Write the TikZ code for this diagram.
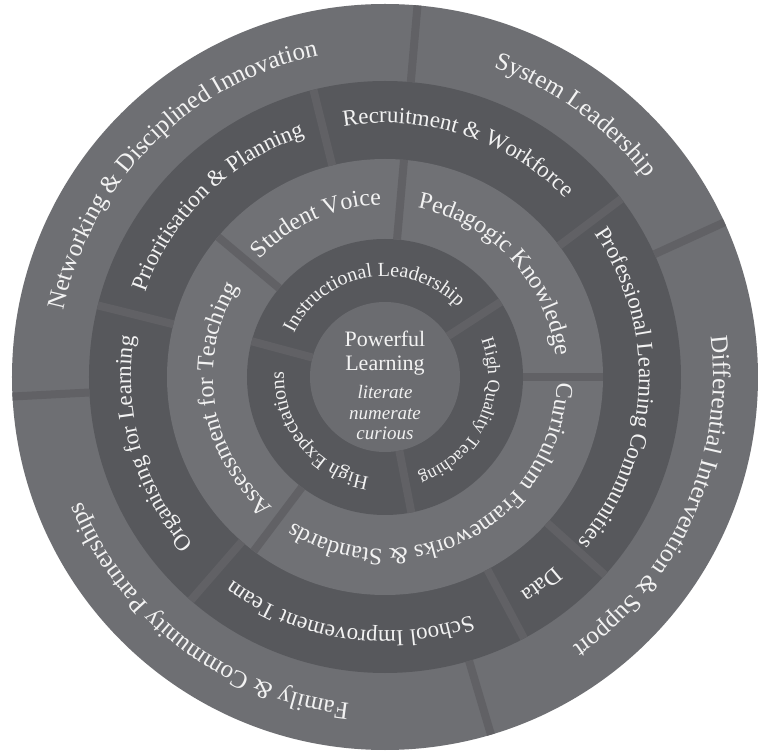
\documentclass[tikz,border=0pt]{standalone}
\usepackage{fontspec}
\setmainfont{Liberation Serif}
\usetikzlibrary{decorations.text}
\definecolor{ringlight}{HTML}{6E6F73}
\definecolor{ringmid}{HTML}{707175}
\definecolor{ringdark}{HTML}{57585C}
\definecolor{ringcore}{HTML}{6B6C70}
\definecolor{ringgap}{HTML}{616165}
\definecolor{ringtxt}{HTML}{F2F2F2}
\newcommand{\txtfive}{\fontsize{25}{25}\selectfont\color{ringtxt}}
\newcommand{\txtfour}{\fontsize{23}{23}\selectfont\color{ringtxt}}
\newcommand{\txtthree}{\fontsize{24}{24}\selectfont\color{ringtxt}}
\newcommand{\txttwo}{\fontsize{20}{20}\selectfont\color{ringtxt}}
\newcommand{\txttwos}{\fontsize{18}{18}\selectfont\color{ringtxt}}
\begin{document}
\begin{tikzpicture}[x=1pt,y=1pt,inner sep=0pt,outer sep=0pt,
divider/.style={draw=ringgap,line width=8pt},
ringtext/.style={decorate,decoration={text along path,text align=center}}]
\useasboundingbox (-385,-375) rectangle (373,377);
\fill[ringlight] (0,0) circle (373);
\fill[ringdark] (0,0) circle (296);
\fill[ringmid] (0,0) circle (218);
\fill[ringdark] (0,0) circle (138);
\fill[ringcore] (0,0) circle (75);
\foreach \a in {24.5,85,183,286.5} \draw[divider] (\a:296) -- (\a:373);
\foreach \a in {37,104,166,229,298,318} \draw[divider] (\a:218) -- (\a:296);
\foreach \a in {0,85,140,233} \draw[divider] (\a:138) -- (\a:218);
\foreach \a in {33,165,281} \draw[divider] (\a:75) -- (\a:138);
\path[ringtext,decoration={text={|\txtfive|Networking {\&} Disciplined Innovation}}] (225:328) arc[start angle=225,end angle=45,radius=328];
\path[ringtext,decoration={text={|\txtfive|System Leadership}}] (144:328) arc[start angle=144,end angle=-36,radius=328];
\path[ringtext,decoration={text={|\txtfive|Differential Intervention {\&} Support}}] (66:328) arc[start angle=66,end angle=-114,radius=328];
\path[ringtext,decoration={text={|\txtfive|Family {\&} Community Partnerships}}] (323:328) arc[start angle=323,end angle=143,radius=328];
\path[ringtext,decoration={text={|\txtfour|Prioritisation {\&} Planning}}] (224.5:254) arc[start angle=224.5,end angle=44.5,radius=254];
\path[ringtext,decoration={text={|\txtfour|Recruitment {\&} Workforce}}] (162:254) arc[start angle=162,end angle=-18,radius=254];
\path[ringtext,decoration={text={|\txtfour|Professional Learning Communities}}] (87:254) arc[start angle=87,end angle=-93,radius=254];
\path[ringtext,decoration={text={|\txtfour|Data}}] (37:254) arc[start angle=37,end angle=-143,radius=254];
\path[ringtext,decoration={text={|\txtfour|School Improvement Team}}] (351.5:254) arc[start angle=351.5,end angle=171.5,radius=254];
\path[ringtext,decoration={text={|\txtfour|Organising for Learning}}] (286:254) arc[start angle=286,end angle=106,radius=254];
\path[ringtext,decoration={text={|\txtthree|Student Voice}}] (204:172) arc[start angle=204,end angle=24,radius=172];
\path[ringtext,decoration={text={|\txtthree|Pedagogic Knowledge}}] (133:172) arc[start angle=133,end angle=-47,radius=172];
\path[ringtext,decoration={text={|\txtthree|Curriculum Frameworks {\&} Standards}}] (28:172) arc[start angle=28,end angle=-152,radius=172];
\path[ringtext,decoration={text={|\txtthree|Assessment for Teaching}}] (279:172) arc[start angle=279,end angle=99,radius=172];
\path[ringtext,decoration={text={|\txttwo|Instructional Leadership}}] (189:101) arc[start angle=189,end angle=9,radius=101];
\path[ringtext,decoration={text={|\txttwos|High Quality Teaching}}] (65:103) arc[start angle=65,end angle=-115,radius=103];
\path[ringtext,decoration={text={|\txttwo|High Expectations}}] (309:101) arc[start angle=309,end angle=129,radius=101];
\node[text=ringtxt,align=center,font=\fontsize{22}{24}\selectfont] (core) at (0,24) {Powerful\\Learning};
\node[text=ringtxt,align=center,font=\fontsize{19}{20.5}\selectfont\itshape] (motto) at (0,-36) {literate\\numerate\\curious};
\end{tikzpicture}
\end{document}
